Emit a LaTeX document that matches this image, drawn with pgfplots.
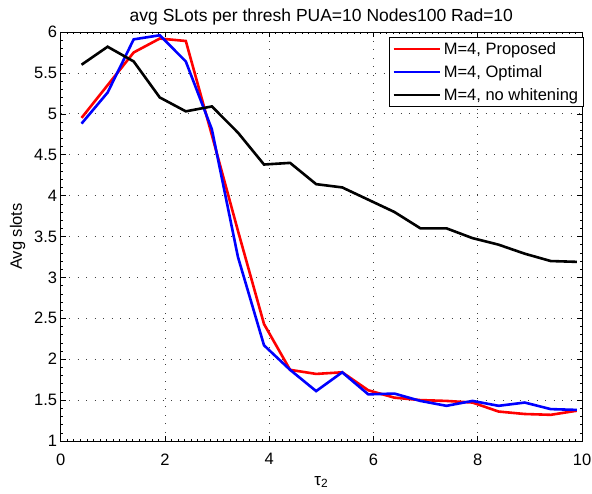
\documentclass[border=0pt]{standalone}
\usepackage{pgfplots}
\pgfplotsset{compat=1.18}
\usepackage{fontspec}
\setmainfont{Liberation Sans}

% x positions of the thresholds
\pgfplotstableread{
x     prop  opt   nowh
0.4   4.95  4.88  5.60
0.9   5.35  5.26  5.82
1.4   5.75  5.91  5.64
1.9   5.92  5.96  5.20
2.4   5.89  5.64  5.03
2.9   4.74  4.81  5.09
3.4   3.57  3.25  4.77
3.9   2.43  2.17  4.38
4.4   1.87  1.87  4.40
4.9   1.82  1.61  4.14
5.4   1.84  1.84  4.10
5.9   1.62  1.57  3.95
6.4   1.53  1.58  3.80
6.9   1.50  1.49  3.60
7.4   1.49  1.43  3.60
7.9   1.47  1.49  3.48
8.4   1.36  1.43  3.40
8.9   1.33  1.47  3.29
9.4   1.32  1.39  3.20
9.9   1.37  1.38  3.19
}\slots

\begin{document}
\begin{tikzpicture}
\useasboundingbox (0,0) rectangle (592pt,493pt);
\begin{axis}[
    at={(60.7pt,52pt)}, anchor=south west,
    scale only axis,
    width=521.3pt, height=409pt,
    xmin=0, xmax=10, ymin=1, ymax=6,
    xtick={0,2,...,10}, ytick={1,1.5,...,6},
    minor x tick num=15, minor y tick num=4,
    tick align=inside,
    major tick length=5pt, minor tick length=2.5pt,
    tick style={black, line width=0.5pt},
    axis line style={black, line width=0.8pt},
    grid=major,
    major grid style={black!75, line width=0.7pt, dash pattern=on 0.8pt off 7.7pt},
    ticklabel style={font=\fontsize{16.5}{18}\selectfont},
    xticklabel style={yshift=-9pt},
    /pgf/number format/assume math mode=true,
    yticklabel style={/pgf/number format/fixed, /pgf/number format/precision=1},
    title={avg SLots per thresh PUA=10 Nodes100 Rad=10},
    title style={font=\fontsize{17.5}{18}\selectfont, yshift=-3pt},
    xlabel={τ\textsubscript{2}},
    xlabel style={font=\fontsize{17}{18}\selectfont, yshift=-4pt},
    ylabel={Avg slots},
    ylabel style={font=\fontsize{16.5}{18}\selectfont, yshift=2pt},
    legend style={at={(1.003,0.988)}, anchor=north east,
        font=\fontsize{16.5}{18}\selectfont, draw=black, line width=0.8pt,
        row sep=5.5pt, inner sep=3pt},
    legend cell align=left,
    legend image code/.code={\draw[#1, line width=2.6pt] (0cm,0cm) -- (1.65cm,0cm);},
    every axis plot/.append style={line width=2.6pt},
]
\addplot[color={rgb,255:red,255;green,0;blue,0}] table[x=x,y=prop] {\slots};
\addplot[color={rgb,255:red,0;green,0;blue,255}] table[x=x,y=opt] {\slots};
\addplot[black] table[x=x,y=nowh] {\slots};
\legend{{M=4, Proposed}, {M=4, Optimal}, {M=4, no whitening}}
\end{axis}
\end{tikzpicture}
\end{document}
